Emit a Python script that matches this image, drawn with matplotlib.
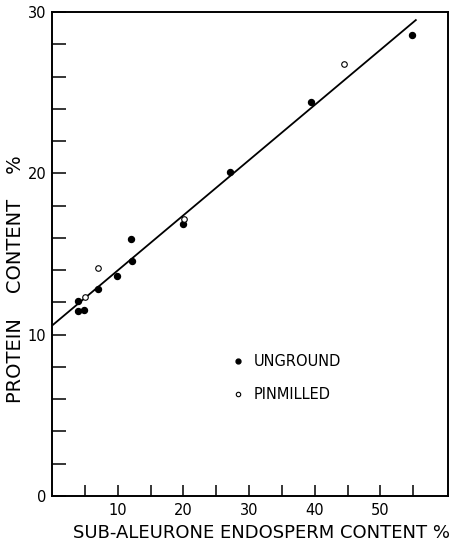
import matplotlib
matplotlib.use("Agg")
import matplotlib.pyplot as plt
from matplotlib.lines import Line2D
import numpy as np

# Data
unground_x = [54.8, 39.4, 27.1, 19.9, 12.1, 12.2, 9.95, 6.95, 3.9, 3.9, 4.87]
unground_y = [28.55, 24.4, 20.1, 16.83, 15.96, 14.58, 13.65, 12.84, 12.09, 11.47, 11.55]
pinmilled_x = [44.4, 20.1, 6.95, 4.97]
pinmilled_y = [26.75, 17.16, 14.16, 12.36]
fit_x = [0.0, 55.4]
fit_y = [10.56, 29.5]

x_major = [10, 20, 30, 40, 50]
x_ticks = [5, 10, 15, 20, 25, 30, 35, 40, 45, 50, 55]
y_major = [0, 10, 20, 30]
y_ticks = list(range(0, 31, 2))
x_label = "SUB-ALEURONE ENDOSPERM CONTENT %"
y_label = "PROTEIN    CONTENT    %"
legend_labels = ["UNGROUND", "PINMILLED"]

plt.rcParams['font.family'] = ['DejaVu Sans']

fig = plt.figure(figsize=(4.5, 5.46), dpi=100)
ax = fig.add_axes([52/450, 1-496/546, 396/450, 484/546])
ax.set_xlim(0, 60.3)
ax.set_ylim(0, 30)

ax.plot(fit_x, fit_y, color='black', lw=1.3)
ax.plot(unground_x, unground_y, 'o', color='black', ms=4.3, zorder=3)
ax.plot(pinmilled_x, pinmilled_y, 'o', mfc='white', mec='black', mew=0.8, ms=4.0, zorder=3)

for s in ax.spines.values():
    s.set_linewidth(1.4)

ax.set_xticks(x_ticks)
ax.set_xticklabels([str(t) if t in x_major else "" for t in x_ticks])
ax.set_yticks(y_ticks)
ax.set_yticklabels([str(t) if t in y_major else "" for t in y_ticks])
ax.tick_params(axis='x', direction='in', length=8, width=1.1, labelsize=10.5, pad=5)
ax.tick_params(axis='y', direction='in', length=10, width=1.1, labelsize=10.5, pad=4)

handles = [Line2D([], [], ls='none', marker='o', color='black', ms=3.5),
           Line2D([], [], ls='none', marker='o', mfc='white', mec='black', mew=0.8, ms=3.2)]
ax.legend(handles, legend_labels, loc='upper left', bbox_to_anchor=(0.445, 0.305),
          frameon=False, fontsize=10.5, handlelength=0.6, handletextpad=0.75,
          labelspacing=1.2, borderaxespad=0)

fig.text(73/450, 1-533/546, x_label, fontsize=13, va='center', ha='left')
fig.text(16/450, 1-279/546, y_label, fontsize=14, rotation=90, va='center', ha='center')

fig.savefig("out.png", dpi=100)
